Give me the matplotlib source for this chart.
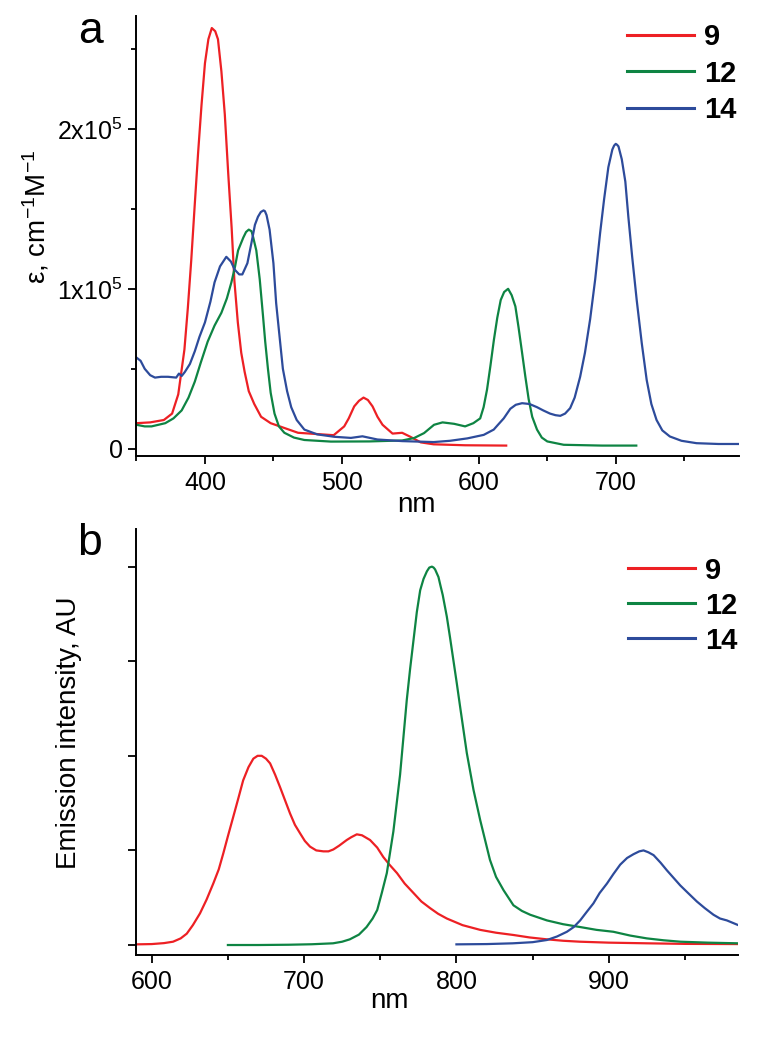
import matplotlib
matplotlib.use("Agg")
import matplotlib.pyplot as plt
import numpy as np

plt.rcParams['font.family'] = ['Liberation Sans', 'DejaVu Sans']
plt.rcParams['mathtext.fontset'] = 'custom'
plt.rcParams['mathtext.rm'] = 'Liberation Sans'
plt.rcParams['mathtext.default'] = 'regular'

RED = '#ED2024'
GREEN = '#0E8443'
BLUE = '#2D4B9B'

# ---- panel a: absorption, epsilon in units of 1e5 cm-1 M-1
abs_nm_9 = [350, 360, 370, 376, 380.5, 385, 387.5, 390, 392.5, 395, 397.5, 400, 402.5, 405, 407.5,
            409.5, 412, 414.5, 417, 419.5, 421.5, 424, 426.5, 429, 432, 436, 441, 448, 468, 494,
            501.7, 505, 509, 512.5, 515.8, 519, 522.4, 526, 529.7, 537, 544, 550, 557.6, 567, 590, 620]
abs_eps_9 = [0.16, 0.165, 0.18, 0.22, 0.34, 0.62, 0.88, 1.18, 1.52, 1.85, 2.15, 2.41, 2.56, 2.63, 2.61,
             2.56, 2.36, 2.09, 1.72, 1.38, 1.05, 0.79, 0.60, 0.48, 0.36, 0.28, 0.20, 0.16, 0.10, 0.085,
             0.14, 0.19, 0.265, 0.30, 0.32, 0.305, 0.265, 0.20, 0.15, 0.095, 0.10, 0.075, 0.04, 0.028,
             0.022, 0.02]

abs_nm_12 = [350, 356, 361, 366, 371, 377, 383, 388, 392.6, 397, 402, 407, 412, 416, 419.3, 422, 424.2,
             428, 430, 432, 434, 435, 437.5, 440, 442.4, 444, 446, 448, 450.8, 454, 458, 465, 472.6,
             492, 520, 544, 552.7, 560, 567.3, 573.5, 582, 590, 596, 601, 603.5, 606, 608.5, 611,
             613.5, 616, 618.5, 621.4, 624, 626.7, 629, 631.6, 634, 636.4, 639, 642.5, 646, 650, 662,
             690, 715]
abs_eps_12 = [0.15, 0.14, 0.14, 0.15, 0.16, 0.19, 0.24, 0.32, 0.42, 0.54, 0.67, 0.77, 0.85, 0.94, 1.04,
              1.14, 1.24, 1.32, 1.355, 1.37, 1.36, 1.33, 1.24, 1.06, 0.83, 0.67, 0.50, 0.35, 0.22,
              0.14, 0.10, 0.07, 0.055, 0.045, 0.046, 0.052, 0.067, 0.098, 0.15, 0.165, 0.156, 0.14,
              0.16, 0.19, 0.26, 0.37, 0.52, 0.68, 0.82, 0.93, 0.98, 1.0, 0.96, 0.89, 0.76, 0.60, 0.45,
              0.31, 0.20, 0.12, 0.07, 0.046, 0.025, 0.02, 0.02]

abs_nm_14 = [350, 353, 356, 360, 363.5, 368, 373, 379, 381, 383, 385.3, 389, 392.6, 396, 400, 404, 407,
             411, 415.6, 419, 421.7, 425, 427.3, 431, 433.8, 436.5, 438.7, 440.8, 442.8, 443.8, 445,
             447.2, 450, 452, 454.5, 456.9, 460, 463, 467, 472.6, 482, 494.5, 506.6, 515, 526, 544,
             567, 579, 591.6, 603.6, 610.9, 614, 618.2, 623, 627, 631.6, 637, 642.5, 647, 652, 656,
             659.5, 663, 666.7, 670, 674, 677.5, 681.3, 685, 688.6, 691.5, 694.6, 697.5, 698.8, 700,
             701, 702, 704.4, 707, 709.2, 712, 715.3, 719, 722.6, 726, 729.8, 734, 739.5, 748, 759,
             775, 790]
abs_eps_14 = [0.57, 0.55, 0.50, 0.46, 0.445, 0.45, 0.45, 0.445, 0.47, 0.455, 0.48, 0.53, 0.61, 0.70, 0.79,
              0.92, 1.04, 1.14, 1.20, 1.17, 1.12, 1.09, 1.09, 1.16, 1.28, 1.40, 1.45, 1.48, 1.49, 1.485,
              1.46, 1.37, 1.16, 0.91, 0.70, 0.50, 0.36, 0.26, 0.18, 0.12, 0.09, 0.075, 0.068, 0.078,
              0.058, 0.048, 0.042, 0.05, 0.065, 0.087, 0.12, 0.15, 0.19, 0.25, 0.275, 0.285, 0.28,
              0.26, 0.24, 0.22, 0.21, 0.206, 0.22, 0.254, 0.32, 0.45, 0.60, 0.81, 1.06, 1.35, 1.56,
              1.76, 1.87, 1.895, 1.906, 1.9, 1.89, 1.81, 1.67, 1.45, 1.20, 0.93, 0.66, 0.43, 0.28, 0.18,
              0.115, 0.077, 0.05, 0.035, 0.03, 0.03]

# ---- panel b: emission, arbitrary units
em_nm_9 = [590, 600, 608, 614, 619, 623, 627, 631.7, 636, 640.4, 644, 647, 650, 653.6, 657, 660, 663.5,
           666.7, 669.5, 672.2, 675, 677.7, 681, 684.2, 687.5, 690.8, 694, 697.4, 700.5, 703.9, 708,
           712.7, 716, 719.2, 723, 728, 731, 734.6, 738, 743.3, 748, 752, 756, 761, 766, 771.8, 777,
           782.7, 788, 793.7, 804, 815.6, 826, 837.4, 848, 859.4, 870, 881, 900, 925, 950, 985]
em_int_9 = [0.007, 0.01, 0.02, 0.035, 0.07, 0.12, 0.21, 0.335, 0.48, 0.65, 0.80, 0.97, 1.15, 1.36, 1.56,
            1.74, 1.88, 1.97, 2.0, 2.0, 1.97, 1.92, 1.80, 1.67, 1.53, 1.39, 1.27, 1.18, 1.10, 1.04, 1.0,
            0.99, 0.99, 1.01, 1.05, 1.11, 1.14, 1.17, 1.16, 1.11, 1.03, 0.93, 0.85, 0.76, 0.65, 0.55,
            0.46, 0.39, 0.33, 0.28, 0.21, 0.16, 0.13, 0.106, 0.08, 0.06, 0.045, 0.035, 0.025, 0.018,
            0.012, 0.01]

em_nm_12 = [650, 670, 690, 705, 719, 725, 730, 736, 741, 745, 748, 751, 754.3, 758.6, 763, 767.4, 769.6,
            771.8, 774, 776.2, 778.4, 780.6, 782.2, 783.9, 785, 786, 788.2, 789.5, 791, 793.7, 795.8,
            798, 800.2, 802.4, 806.8, 811.2, 815.6, 822, 826, 830.9, 837.4, 843, 848.4, 859.4, 870,
            881.2, 892, 903, 914, 925, 936, 947, 965, 985]
em_int_12 = [0.0, 0.0, 0.003, 0.008, 0.018, 0.035, 0.06, 0.11, 0.19, 0.28, 0.37, 0.55, 0.76, 1.2, 1.8,
             2.59, 2.92, 3.22, 3.52, 3.75, 3.87, 3.95, 3.99, 4.0, 3.99, 3.97, 3.89, 3.80, 3.70, 3.47,
             3.25, 3.01, 2.77, 2.52, 2.03, 1.64, 1.32, 0.90, 0.72, 0.58, 0.42, 0.36, 0.32, 0.26, 0.22,
             0.19, 0.16, 0.14, 0.10, 0.07, 0.05, 0.035, 0.025, 0.018]

em_nm_14 = [800, 820, 837, 850, 859.4, 866, 872.5, 877, 881.2, 885.5, 889.9, 894, 898.8, 903, 907.5, 912,
            916.2, 920, 922.8, 926, 929.4, 934, 938.1, 942.5, 946.9, 952, 957.8, 963, 968.7, 973, 977.5,
            985]
em_int_14 = [0.007, 0.01, 0.018, 0.03, 0.053, 0.09, 0.14, 0.19, 0.26, 0.35, 0.44, 0.55, 0.65, 0.75, 0.85,
             0.92, 0.96, 0.99, 1.0, 0.98, 0.95, 0.87, 0.79, 0.71, 0.63, 0.55, 0.46, 0.39, 0.32, 0.28,
             0.26, 0.21]

labels = ['9', '12', '14']
colors = [RED, GREEN, BLUE]

fig = plt.figure(figsize=(7.57, 10.48), dpi=100)
ax1 = fig.add_axes([0.1803, 0.5649, 0.7959, 0.4198])
ax2 = fig.add_axes([0.1803, 0.0887, 0.7950, 0.4062])

abs_sets = [(abs_nm_9, abs_eps_9), (abs_nm_12, abs_eps_12), (abs_nm_14, abs_eps_14)]
for (xs, ys), c, lab in zip(abs_sets, colors, labels):
    ax1.plot(xs, np.array(ys) * 1e5, color=c, lw=1.6, label=lab)

em_sets = [(em_nm_9, em_int_9), (em_nm_12, em_int_12), (em_nm_14, em_int_14)]
for (xs, ys), c, lab in zip(em_sets, colors, labels):
    ax2.plot(xs, ys, color=c, lw=1.6, label=lab)

for ax in (ax1, ax2):
    ax.spines['top'].set_visible(False)
    ax.spines['right'].set_visible(False)
    for s in ('left', 'bottom'):
        ax.spines[s].set_linewidth(1.4)
    ax.tick_params(which='major', direction='out', length=6, width=1.3, labelsize=18, pad=4)
    ax.tick_params(which='minor', direction='out', length=3.5, width=1.3)
    ax.tick_params(axis='x', which='major', pad=5)

ax1.set_xlim(350, 790)
ax1.set_ylim(-4500, 270500)
ax1.set_xticks([400, 500, 600, 700])
ax1.set_xticks([350, 450, 550, 650, 750], minor=True)
ax1.set_yticks([0, 1e5, 2e5])
ax1.set_yticklabels(['0', r'1x10$^{5}$', r'2x10$^{5}$'])
ax1.set_yticks([0.5e5, 1.5e5, 2.5e5], minor=True)

ax2.set_xlim(590, 985)
ax2.set_ylim(-0.106, 4.394)
ax2.set_xticks([600, 700, 800, 900])
ax2.set_xticks([650, 750, 850, 950], minor=True)
ax2.set_yticks([0, 1, 2, 3, 4])
ax2.set_yticklabels([])

# axis labels
ax1.text(0.465, -0.127, 'nm', transform=ax1.transAxes, ha='center', va='baseline', fontsize=20)
ax2.text(0.421, -0.124, 'nm', transform=ax2.transAxes, ha='center', va='baseline', fontsize=20)
fig.text(36 / 757, 1 - 217 / 1048, r'ε, cm$^{-1}$M$^{-1}$', rotation=90, ha='center', va='center',
         fontsize=20)
fig.text(69 / 757, 1 - 733 / 1048, 'Emission intensity, AU', rotation=90, ha='center', va='center',
         fontsize=20)

# panel letters
fig.text(90 / 757, 1 - 43 / 1048, 'a', ha='center', va='baseline', fontsize=32)
fig.text(90 / 757, 1 - 555 / 1048, 'b', ha='center', va='baseline', fontsize=32)

leg_kw = dict(frameon=False, handlelength=2.3, handletextpad=0.35,
              borderpad=0, borderaxespad=0, loc='upper left',
              prop={'weight': 'bold', 'size': 21})
ax1.legend(bbox_to_anchor=(0.814, 0.984), labelspacing=0.29, **leg_kw)
ax2.legend(bbox_to_anchor=(0.817, 0.936), labelspacing=0.24, **leg_kw)
for ax in (ax1, ax2):
    for h in ax.get_legend().get_lines():
        h.set_linewidth(2.2)

fig.savefig('out.png', dpi=100)
